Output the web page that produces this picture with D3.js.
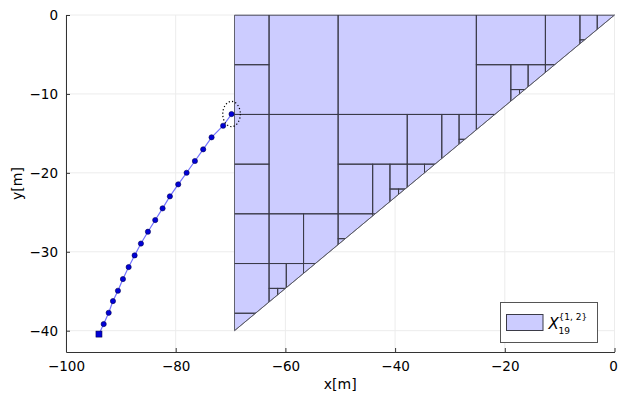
<!DOCTYPE html>
<html>
<head>
<meta charset="utf-8">
<script src="https://cdn.jsdelivr.net/npm/d3@7"></script>
<style>
  body { margin: 0; background: #fff; }
  text { font-family: "DejaVu Sans", sans-serif; }
</style>
</head>
<body>
<script>
// trajectory (start = square marker)
const trajX = [-93.99, -93.13, -92.22, -91.44, -90.53, -89.62, -88.58, -87.49, -86.34, -85.06,
  -83.73, -82.39, -81.06, -79.54, -78.01, -76.50, -74.99, -73.46, -71.35, -69.82];
const trajY = [-40.43, -39.16, -37.73, -36.25, -34.94, -33.46, -31.94, -30.46, -28.96, -27.46,
  -25.98, -24.50, -22.98, -21.46, -19.99, -18.50, -17.02, -15.50, -14.03, -12.55];

// uncertainty circle around the last point
const ellipse = { cx: -69.82, cy: -12.55, r: 1.6 };

// feasible region (triangle) and its box paving [xmin, xmax, ymin, ymax]
const triX = [0, -69.28, -69.28];
const triY = [0, 0, -40];
const boxes = [
  [-69.28, -62.98, -6.30, 0], [-69.28, -62.98, -12.60, -6.30], [-69.28, -62.98, -18.90, -12.60],
  [-69.28, -62.98, -25.19, -18.90], [-69.28, -62.98, -31.49, -25.19], [-69.28, -62.98, -37.79, -31.49],
  [-69.28, -62.98, -44.09, -37.79],
  [-62.98, -50.39, -12.60, 0], [-62.98, -50.39, -25.19, -12.60],
  [-62.98, -56.69, -31.49, -25.19], [-56.69, -50.39, -31.49, -25.19],
  [-62.98, -59.84, -34.64, -31.49], [-59.84, -56.69, -37.79, -31.49],
  [-62.98, -61.41, -37.79, -34.64], [-61.41, -59.84, -37.79, -34.64],
  [-50.39, -25.19, -12.60, 0],
  [-50.39, -37.79, -18.90, -12.60], [-50.39, -44.09, -25.19, -18.90], [-44.09, -40.94, -25.19, -18.90],
  [-40.94, -37.79, -22.05, -18.90], [-40.94, -39.37, -25.19, -22.05], [-39.37, -37.79, -25.19, -22.05],
  [-50.39, -44.09, -28.34, -25.19], [-50.39, -44.09, -31.49, -28.34],
  [-37.79, -31.49, -18.90, -12.60], [-31.49, -28.34, -18.90, -12.60],
  [-28.34, -25.19, -15.75, -12.60], [-28.34, -25.19, -18.90, -15.75],
  [-37.79, -34.64, -25.19, -18.90], [-34.64, -31.49, -25.19, -18.90],
  [-25.19, -12.60, -6.30, 0], [-25.19, -18.90, -12.60, -6.30],
  [-18.90, -15.75, -9.45, -6.30], [-18.90, -17.32, -12.60, -9.45], [-17.32, -15.75, -12.60, -9.45],
  [-15.75, -12.60, -12.60, -6.30], [-25.19, -12.60, -25.19, -12.60],
  [-12.60, -6.30, -6.30, 0], [-6.30, -3.15, -3.15, 0], [-6.30, -3.15, -6.30, -3.15],
  [-3.15, 0, -3.15, 0], [-3.15, 0, -6.30, -3.15], [-12.60, 0, -12.60, -6.30]
];

const xTicks = [-100, -80, -60, -40, -20, 0];
const yTicks = [0, -10, -20, -30, -40];

const W = 618, H = 393;
const x = d3.scaleLinear().domain([-100, 0]).range([66, 614.5]);
const y = d3.scaleLinear().domain([-42.7, 0]).range([352, 15]);

const svg = d3.select("body").append("svg").attr("width", W).attr("height", H);

// grid
svg.append("g").selectAll("line").data(xTicks).join("line")
  .attr("x1", d => x(d)).attr("x2", d => x(d))
  .attr("y1", y.range()[0]).attr("y2", y.range()[1])
  .attr("stroke", "#ececec");
svg.append("g").selectAll("line").data(yTicks).join("line")
  .attr("y1", d => y(d)).attr("y2", d => y(d))
  .attr("x1", x.range()[0]).attr("x2", x.range()[1])
  .attr("stroke", "#ececec");

// region
const triPts = triX.map((v, i) => [x(v), y(triY[i])]);
svg.append("clipPath").attr("id", "tri")
  .append("polygon").attr("points", triPts.join(" "));

svg.append("polygon")
  .attr("points", triPts.join(" "))
  .attr("fill", "#ccccff")
  .attr("stroke", "#8a8a96");

svg.append("g").attr("clip-path", "url(#tri)")
  .selectAll("rect").data(boxes).join("rect")
  .attr("x", d => x(d[0]))
  .attr("y", d => y(d[3]))
  .attr("width", d => x(d[1]) - x(d[0]))
  .attr("height", d => y(d[2]) - y(d[3]))
  .attr("fill", "none")
  .attr("stroke", "#3b3b48")
  .attr("stroke-width", 1);

svg.append("polyline")
  .attr("points", [[x(0), y(0)], [x(-69.28), y(-40)]].join(" "))
  .attr("fill", "none").attr("stroke", "#5a5a66");

// axes
const gx = svg.append("g").attr("transform", `translate(0,${y.range()[0]})`)
  .call(d3.axisBottom(x).tickValues(xTicks).tickSizeInner(-4).tickSizeOuter(0).tickPadding(9));
const gy = svg.append("g").attr("transform", `translate(${x.range()[0]},0)`)
  .call(d3.axisLeft(y).tickValues(yTicks).tickSizeInner(-4).tickSizeOuter(0).tickPadding(8));
[gx, gy].forEach(g => {
  g.select(".domain").attr("stroke", "#333");
  g.selectAll(".tick line").attr("stroke", "#333");
  g.selectAll(".tick text").attr("font-size", 13.5).attr("fill", "#000")
    .attr("font-family", "DejaVu Sans, sans-serif");
});
gx.selectAll(".tick text").filter(d => d === 0).attr("dx", "-1.5");

svg.append("text").attr("x", (x.range()[0] + x.range()[1]) / 2).attr("y", 389)
  .attr("text-anchor", "middle").attr("font-size", 14).text("x[m]");
svg.append("text")
  .attr("transform", `translate(22,${(y.range()[0] + y.range()[1]) / 2}) rotate(-90)`)
  .attr("text-anchor", "middle").attr("font-size", 14).text("y[m]");

// trajectory
const traj = trajX.map((v, i) => [v, trajY[i]]);
svg.append("path")
  .attr("d", d3.line().x(d => x(d[0])).y(d => y(d[1]))(traj))
  .attr("fill", "none").attr("stroke", "#7272ff").attr("stroke-width", 1.2);
svg.append("g").selectAll("circle").data(traj.slice(1)).join("circle")
  .attr("cx", d => x(d[0])).attr("cy", d => y(d[1])).attr("r", 2.6)
  .attr("fill", "#0000d8").attr("stroke", "#000050").attr("stroke-width", 0.6);
svg.append("rect")
  .attr("x", x(traj[0][0]) - 3).attr("y", y(traj[0][1]) - 3)
  .attr("width", 6).attr("height", 6)
  .attr("fill", "#0000d8").attr("stroke", "#000050").attr("stroke-width", 0.6);

svg.append("ellipse")
  .attr("cx", x(ellipse.cx)).attr("cy", y(ellipse.cy))
  .attr("rx", x(ellipse.cx + ellipse.r) - x(ellipse.cx))
  .attr("ry", y(ellipse.cy - ellipse.r) - y(ellipse.cy))
  .attr("fill", "none").attr("stroke", "#000")
  .attr("stroke-width", 1.2).attr("stroke-dasharray", "1.2,2.2");

// legend
const lg = svg.append("g").attr("transform", "translate(500.5,302.5)");
lg.append("rect").attr("width", 97).attr("height", 40)
  .attr("fill", "#fff").attr("stroke", "#555");
lg.append("rect").attr("x", 6).attr("y", 12).attr("width", 36.5).attr("height", 16)
  .attr("fill", "#ccccff").attr("stroke", "#3b3b48");
const lt = lg.append("text").attr("font-family", "Liberation Serif, DejaVu Serif, serif");
lt.append("tspan").attr("x", 48).attr("y", 26).attr("font-size", 15)
  .attr("font-style", "italic").text("X");
lt.append("tspan").attr("x", 58).attr("y", 17).attr("font-size", 9).text("{1, 2}");
lt.append("tspan").attr("x", 58).attr("y", 31).attr("font-size", 9).text("19");
</script>
</body>
</html>
